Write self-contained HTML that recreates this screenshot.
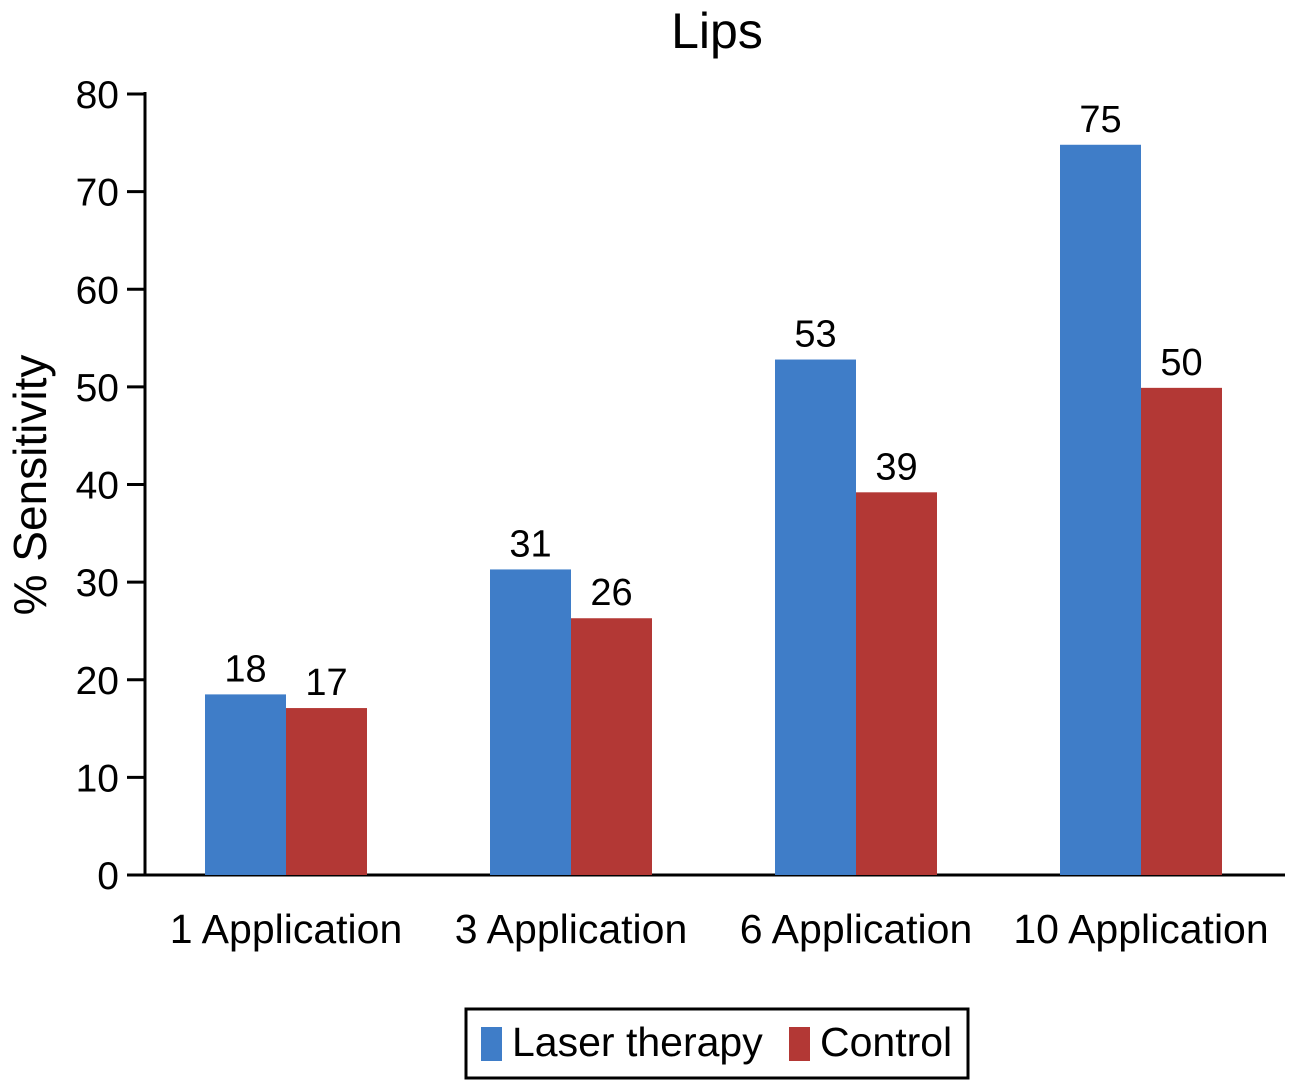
<!DOCTYPE html>
<html><head><meta charset="utf-8"><style>
html,body{margin:0;padding:0;background:#fff;}
svg text{font-family:"Liberation Sans",Arial,sans-serif;fill:#000;}
</style></head><body>
<svg id="chart" width="1289" height="1081" viewBox="0 0 1289 1081" xmlns="http://www.w3.org/2000/svg">
<text x="717" y="48" font-size="50" text-anchor="middle">Lips</text>
<text transform="translate(46,485) rotate(-90)" font-size="46" text-anchor="middle">% Sensitivity</text>
<g id="axes"></g>
<g id="bars"></g>
<g>
<rect x="466" y="1009" width="502" height="69" fill="#fff" stroke="#000" stroke-width="3"/>
<rect x="481" y="1027" width="21" height="34" fill="#3f7dc8"/>
<text x="512" y="1056" font-size="41">Laser therapy</text>
<rect x="789" y="1027" width="21" height="34" fill="#b33835"/>
<text x="820" y="1056" font-size="41">Control</text>
</g>
</svg>
<script>
const categories=["1 Application","3 Application","6 Application","10 Application"];
const laserValues=[18.5,31.3,52.8,74.8];
const controlValues=[17.1,26.3,39.2,49.9];
const laserLabels=["18","31","53","75"];
const controlLabels=["17","26","39","50"];
const yTicks=[0,10,20,30,40,50,60,70,80];

const NS="http://www.w3.org/2000/svg";
const y0=875,y1=94,yMax=80;
const xStart=143.5,band=285,barW=81;
function yScale(v){return y0-(v/yMax)*(y0-y1);}
function xCenter(i){return xStart+band*(i+0.5);}
function mk(tag,attrs,parent){const e=document.createElementNS(NS,tag);for(const k in attrs)e.setAttribute(k,attrs[k]);parent.appendChild(e);return e;}
const axes=document.getElementById('axes');
const bars=document.getElementById('bars');
let l=mk('line',{x1:145,y1:y1-2,x2:145,y2:y0+1.5,stroke:'#000','stroke-width':3},axes);


l=mk('line',{x1:143.5,y1:y0,x2:1285,y2:y0,stroke:'#000','stroke-width':3},axes);


yTicks.forEach(t=>{
 const y=yScale(t);
 const tk=mk('line',{x1:127,y1:y,x2:145,y2:y,stroke:'#000','stroke-width':3},axes);
 
 
 const tx=mk('text',{x:119,y:y+14,'font-size':39,'text-anchor':'end'},axes);
 tx.textContent=t;
 
 
});
categories.forEach((c,i)=>{
 const cx=xCenter(i);
 const tx=mk('text',{x:cx,y:943,'font-size':41,'text-anchor':'middle'},axes);
 tx.textContent=c;
 
 
 [[laserValues[i],laserLabels[i],'#3f7dc8',cx-barW,'bar-laser'],[controlValues[i],controlLabels[i],'#b33835',cx,'bar-control']].forEach(([v,t,col,x,n])=>{
  const yt=yScale(v);
  const r=mk('rect',{x:x,y:yt,width:barW,height:y0-yt,fill:col},bars);
  
  
  const lb=mk('text',{x:x+barW/2,y:yt-13,'font-size':38,'text-anchor':'middle'},bars);
  lb.textContent=t;
  
  
 });
});
</script>
</body></html>
